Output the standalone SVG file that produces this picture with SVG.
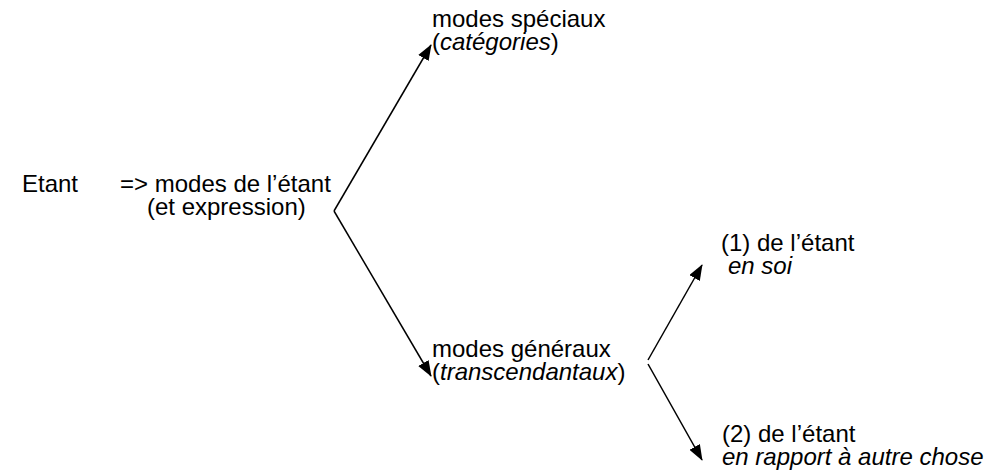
<svg xmlns="http://www.w3.org/2000/svg" width="1004" height="472" viewBox="0 0 1004 472">
<style>
text{font-family:"Liberation Sans",Arial,sans-serif;font-size:24px;fill:#000}
.i{font-style:italic}
.c{stroke:#000;stroke-width:1.5;fill:none}
.a{marker-end:url(#ah)}
</style>
<defs>
<marker id="ah" viewBox="0 0 16 12" refX="15" refY="6" markerWidth="16" markerHeight="12" markerUnits="userSpaceOnUse" orient="auto">
<path d="M0,0 L16,6 L0,12 Z" fill="#000"/>
</marker>
</defs>
<rect width="1004" height="472" fill="#fff"/>
<g id="connectors">
<line class="c a" x1="334" y1="211" x2="431" y2="45"/>
<line class="c a" x1="334" y1="211" x2="431" y2="376"/>
<line class="c a" x1="648" y1="360" x2="702" y2="265"/>
<line class="c a" x1="648" y1="364" x2="702" y2="460"/>
</g>
<g id="etant"><text x="22" y="192">Etant</text></g>
<g id="modes-etant"><text x="120" y="192">=&gt; modes de l’étant<tspan x="147" y="215">(et expression)</tspan></text></g>
<g id="modes-speciaux"><text x="432" y="27">modes spéciaux<tspan x="432" y="50">(<tspan class="i">catégories</tspan>)</tspan></text></g>
<g id="modes-generaux"><text x="432" y="357">modes généraux<tspan x="432" y="380">(<tspan class="i">transcendantaux</tspan>)</tspan></text></g>
<g id="en-soi"><text x="721" y="251">(1) de l’étant<tspan x="728" y="274" class="i">en soi</tspan></text></g>
<g id="autre-chose"><text x="722" y="442">(2) de l’étant<tspan x="722" y="465" class="i">en rapport à autre chose</tspan></text></g>
</svg>
